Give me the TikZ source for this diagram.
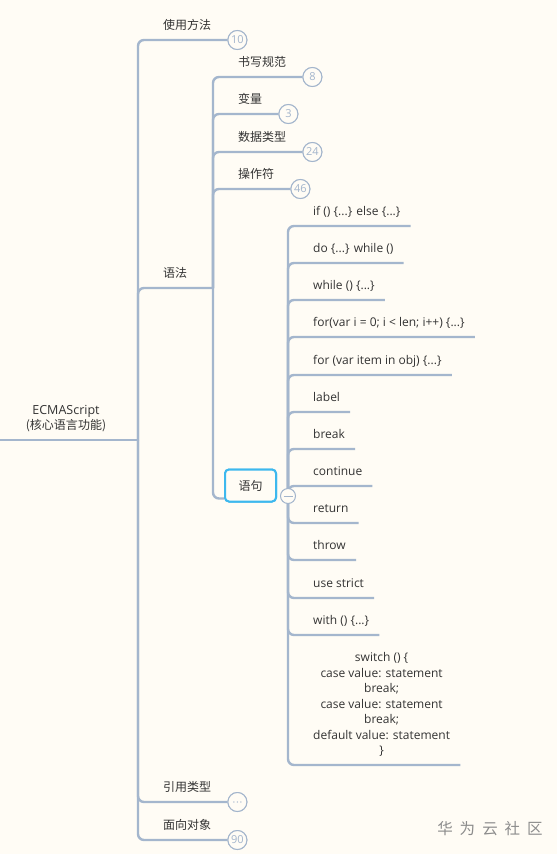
\documentclass[tikz,border=0pt]{standalone}
\usepackage{fontspec}
\setmainfont{Open Sans}
\newfontfamily\cjk{Noto Sans CJK SC}
\usetikzlibrary{positioning}
\definecolor{bgc}{HTML}{FFFCF5}
\definecolor{branchc}{HTML}{A4B6CD}
\definecolor{txtc}{HTML}{333333}
\definecolor{countc}{HTML}{A3B5CC}
\definecolor{selc}{HTML}{3DB8EE}
\tikzset{
  conn/.style={draw=branchc, line width=2.4pt, rounded corners=6pt},
  topic/.style={anchor=south west, inner xsep=0pt, inner ysep=8pt, text depth=2pt,
    text=txtc, font=\cjk\fontsize{12}{14}\selectfont},
  item/.style={topic, inner xsep=10pt, font=\fontsize{12}{14}\selectfont},
  count/.style={circle, draw=countc, line width=1pt, fill=bgc, minimum size=19pt,
    inner sep=0pt, text=countc, font=\fontsize{11}{12}\selectfont},
}
\begin{document}
\begin{tikzpicture}[x=1pt,y=-1pt]
\fill[bgc] (0,0) rectangle (557,854);
\useasboundingbox (0,0) rectangle (557,854);

% root
\node[text=txtc, align=center, font=\fontsize{12.5}{15}\selectfont] (root) at (66,419) {ECMAScript\\{\cjk\fontsize{12}{15}\selectfont (核心语言功能)}};
\coordinate (rootL) at (0,440);
\coordinate (j0) at (138,440);
\draw[conn] (rootL) -- (j0);

% first level
\node[topic] (use) at (163,40) {使用方法};
\node[count] (cUse) at ([xshift=26pt]use.south east) {10};
\node[topic] (syn) at (163,288) {语法};
\coordinate (j1) at (213,288);
\node[topic] (ref) at (163,802) {引用类型};
\node[count] (cRef) at ([xshift=26pt]ref.south east) {};
\node[topic] (oop) at (163,840) {面向对象};
\node[count] (cOop) at ([xshift=26pt]oop.south east) {90};

% second level
\node[topic] (style) at (238,77) {书写规范};
\node[count] (cStyle) at ([xshift=26pt]style.south east) {8};
\node[topic] (var) at (238,114) {变量};
\node[count] (cVar) at ([xshift=26pt]var.south east) {3};
\node[topic] (type) at (238,152) {数据类型};
\node[count] (cType) at ([xshift=26pt]type.south east) {24};
\node[topic] (op) at (238,189) {操作符};
\node[count] (cOp) at ([xshift=26pt]op.south east) {46};
\node[draw=selc, line width=2pt, rounded corners=4pt, minimum width=51pt, minimum height=32pt,
  text=txtc, font=\cjk\fontsize{12}{14}\selectfont] (stmt) at (250.5,485.5) {语句};

% statements
\node[item] (s1) at (303,226) {if () \{...\} else \{...\}};
\node[item] (s2) at (303,263) {do \{...\} while ()};
\node[item] (s3) at (303,300) {while () \{...\}};
\node[item] (s4) at (303,337) {for(var i = 0; i < len; i++) \{...\}};
\node[item] (s5) at (303,375) {for (var item in obj) \{...\}};
\node[item] (s6) at (303,412) {label};
\node[item] (s7) at (303,449) {break};
\node[item] (s8) at (303,486) {continue};
\node[item] (s9) at (303,523) {return};
\node[item] (s10) at (303,560) {throw};
\node[item] (s11) at (303,598) {use strict};
\node[item] (s12) at (303,635) {with () \{...\}};
\node[item, align=center, font=\fontsize{12}{15.5}\selectfont] (s13) at (303,765) {switch () \{\\case value: statement\\break;\\case value: statement\\break;\\default value: statement\\\}};

% connectors
\draw[conn] (j0) |- (cUse.west);
\draw[conn] (j0) |- (j1);
\draw[conn] (j0) |- (cRef.west);
\draw[conn] (j0) |- (cOop.west);
\foreach \c in {cStyle,cVar,cType,cOp}
  \draw[conn] (j1) |- (\c.west);
\draw[conn] (j1) |- ([yshift=4pt]stmt.south west);
\coordinate (j2) at (288,496);
\foreach \s in {s1,s2,s3,s4,s5,s6,s7,s8,s9,s10,s11,s12,s13}
  \draw[conn] (j2) |- (\s.south east);

% redraw circles on top
\foreach \c/\t in {cUse/10,cOop/90,cStyle/8,cVar/3,cType/24,cOp/46}
  \node[count] at (\c) {\t};
\node[count] at (cRef) {};
\foreach \dx in {-3.5,0,3.5}
  \fill[countc] ([xshift=\dx pt]cRef.center) circle (0.7pt);
\node[draw=selc, line width=2pt, rounded corners=4pt, minimum width=51pt, minimum height=32pt,
  fill=bgc, text=txtc, font=\cjk\fontsize{12}{14}\selectfont] at (stmt) {语句};
\node[count, minimum size=15pt] (fold) at (j2) {};
\draw[countc, line width=0.8pt] ([xshift=-4.5pt]fold.center) -- ([xshift=4.5pt]fold.center);

% watermark
\node[text=black!45, font=\cjk\fontsize{15.5}{16}\selectfont] (mark) at (490,829) {华\hspace{7pt}为\hspace{7pt}云\hspace{7pt}社\hspace{7pt}区};
\end{tikzpicture}
\end{document}
